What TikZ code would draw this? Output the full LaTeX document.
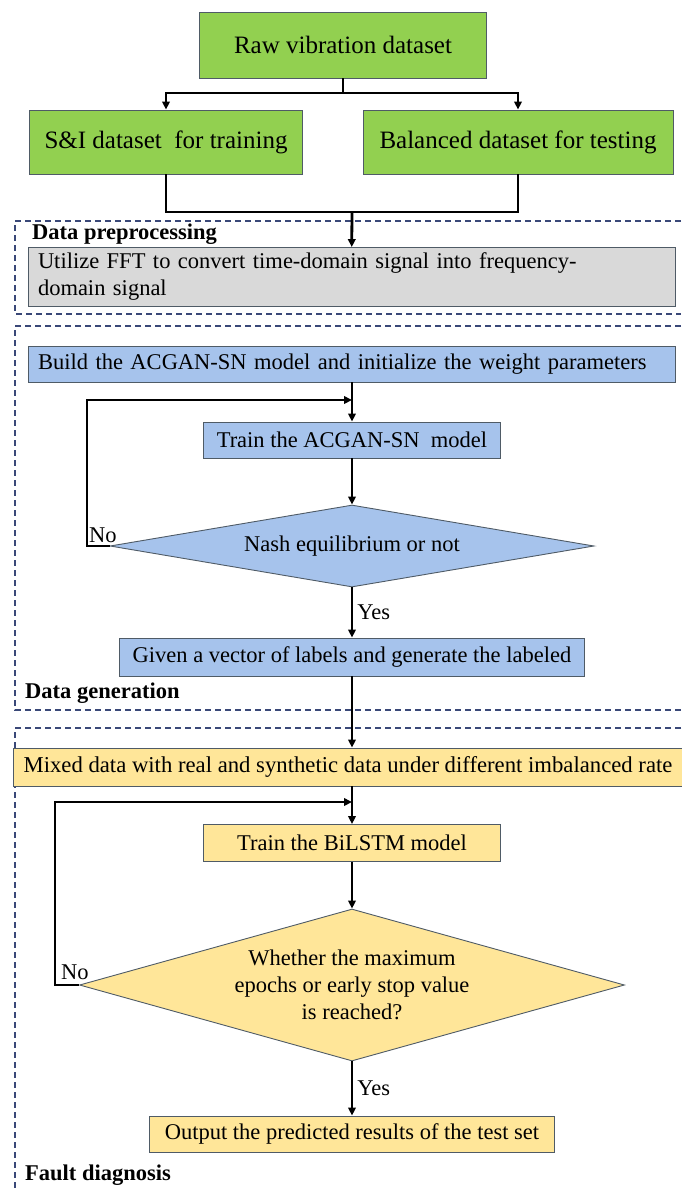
\documentclass[tikz,border=0pt]{standalone}
\usepackage{fontspec}
\setmainfont{Liberation Serif}
\usetikzlibrary{positioning, shapes.geometric, arrows.meta}

\definecolor{grn}{HTML}{92D050}
\definecolor{gry}{HTML}{D9D9D9}
\definecolor{blu}{HTML}{A6C3EC}
\definecolor{ylw}{HTML}{FFE699}
\definecolor{navy}{HTML}{3A4878}
\definecolor{edge}{HTML}{4F5B66}

\begin{document}
\begin{tikzpicture}[x=1pt,y=-1pt,
    box/.style={rectangle,draw=edge,line width=0.9pt,inner sep=0pt,
        font=\fontsize{22.5}{27}\selectfont},
    big/.style={box,fill=grn,font=\fontsize{25}{30}\selectfont},
    dec/.style={diamond,draw=edge,line width=0.9pt,inner sep=0pt,align=center,
        font=\fontsize{22.5}{27}\selectfont},
    tag/.style={anchor=west,inner sep=0pt,font=\bfseries\fontsize{22.5}{26}\selectfont},
    txt/.style={inner sep=0pt,font=\fontsize{22.5}{26}\selectfont},
    link/.style={line width=2.8pt},
    arr/.style={link,-{Triangle[length=8pt,width=7.5pt]}},
    frame/.style={navy,line width=1.1pt,dash pattern=on 6pt off 4pt}]

\useasboundingbox (0,0) rectangle (681,1189);

%Input====================================================================
\node[big,minimum width=287pt,minimum height=66pt] (raw) at (343,45) {Raw vibration dataset};
\node[big,minimum width=273pt,minimum height=64pt] (train) at (166,142) {S\&I dataset\ \ for training};
\node[big,minimum width=310pt,minimum height=64pt] (test) at (518,142) {Balanced dataset for testing};

\coordinate (split) at (343,93);
\coordinate (join) at (352,212);
\draw[link] (raw) -- (split);
\draw[arr] (split) -| (train);
\draw[arr] (split) -| (test);
\draw[link] (train) |- (join);
\draw[link] (test) |- (join);
%=======================================================================

%Data preprocessing====================================================
\draw[frame] (681,221) -- (15,221) -- (15,314) -- (681,314);
\node[tag] (pre) at (32,234) {Data preprocessing};
\node[box,fill=gry,minimum width=647pt,minimum height=59pt,text width=627pt,align=left] (fft) at (351.5,277)
    {Utilize FFT to convert time-domain signal into frequency-\\domain signal};
\draw[arr] (join) -- (fft);
%=======================================================================

%Data generation=======================================================
\draw[frame] (681,326) -- (15,326) -- (15,710) -- (681,710);
\node[tag] (gen) at (25,693) {Data generation};
\node[box,fill=blu,minimum width=647pt,minimum height=36pt,text width=627pt,align=left] (build) at (351.5,364)
    {Build the ACGAN-SN model and initialize the weight parameters};
\node[box,fill=blu,minimum width=297pt,minimum height=36pt] (gan) at (352,440) {Train the ACGAN-SN\ \ model};
\node[dec,fill=blu,aspect=5.9,minimum width=484pt,minimum height=82pt] (nash) at (352,546) {Nash equilibrium or not};
\node[box,fill=blu,minimum width=465pt,minimum height=38pt] (label) at (352,657) {Given a vector of labels and generate the labeled};

\coordinate (m1) at (352,400);
\coordinate (back1) at (87,400);
\draw[link] (build.south -| m1) -- (m1);
\draw[arr] (m1) -- (gan);
\draw[arr] (gan) -- (nash);
\draw[arr] (nash.west) -| (back1) -- (m1);
\draw[arr] (nash) -- (label) node[txt,midway,right=4pt] {Yes};
\node[txt,anchor=south west] (no1) at (89,543) {No};
%=======================================================================

%Fault diagnosis=======================================================
\draw[frame] (681,728) -- (15,728) -- (15,1189);
\node[tag] (diag) at (25,1175) {Fault diagnosis};
\node[box,fill=ylw,minimum width=670pt,minimum height=38pt,font=\fontsize{22.7}{26}\selectfont] (mix) at (348,767)
    {Mixed data with real and synthetic data under different imbalanced rate};
\node[box,fill=ylw,minimum width=297pt,minimum height=37pt] (lstm) at (352,843) {Train the BiLSTM model};
\node[dec,fill=ylw,aspect=3.59,minimum width=545pt,minimum height=152pt] (stop) at (352,985)
    {Whether the maximum\\epochs or early stop value\\is reached?};
\node[box,fill=ylw,minimum width=405pt,minimum height=36pt] (out) at (352,1134) {Output the predicted results of the test set};

\coordinate (m2) at (352,802);
\coordinate (back2) at (55,802);
\draw[arr] (label) -- (mix.north -| label);
\draw[link] (mix.south -| m2) -- (m2);
\draw[arr] (m2) -- (lstm);
\draw[arr] (lstm) -- (stop);
\draw[arr] (stop.west) -| (back2) -- (m2);
\draw[arr] (stop) -- (out) node[txt,midway,right=4pt] {Yes};
\node[txt,anchor=south west] (no2) at (61,980) {No};
%=======================================================================

\end{tikzpicture}
\end{document}
